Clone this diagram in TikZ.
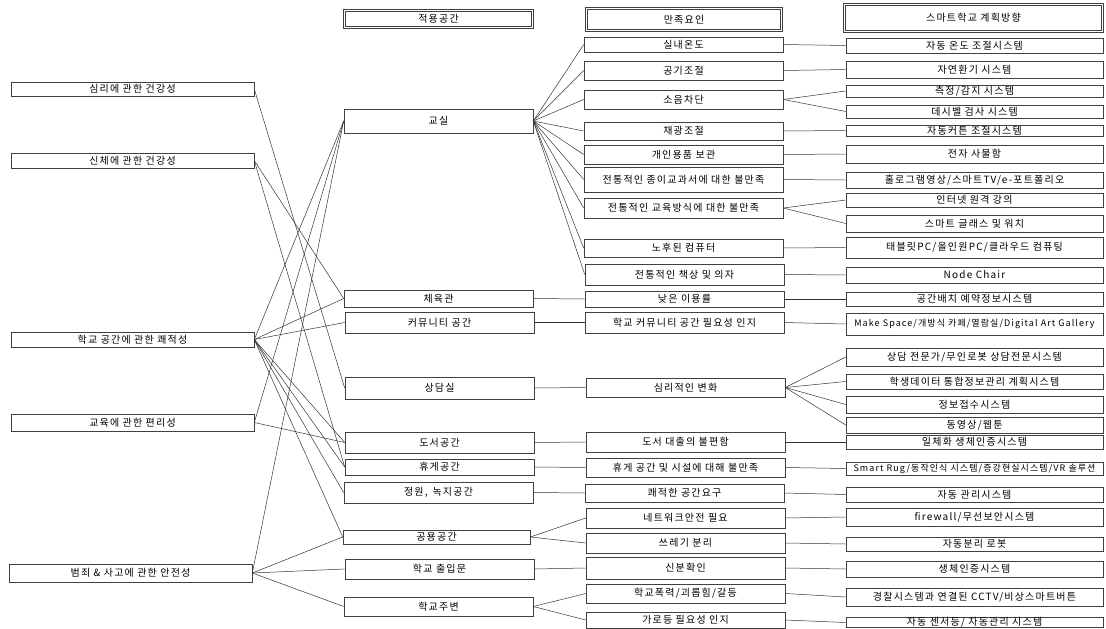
\documentclass[tikz,border=0pt]{standalone}
\usepackage{fontspec}
\setmainfont{Noto Sans CJK KR}[LetterSpace=12]
\tikzset{
  box/.style={draw=black!75, fill=white, line width=0.6pt, inner sep=0pt, font=\fontsize{10}{11}\selectfont},
  leftbox/.style={box, minimum width=243pt},
  spacebox/.style={box, minimum width=189pt},
  factorbox/.style={box, minimum width=199pt},
  planbox/.style={box, minimum width=257pt},
  headbox/.style={box, double, double distance=1.4pt},
  link/.style={black!80, line width=0.5pt}
}
\begin{document}
\begin{tikzpicture}[x=1pt, y=-1pt]
  \useasboundingbox (0,0) rectangle (1106,629);

  \node[headbox, minimum width=188pt, minimum height=17pt] (hs) at (438.5,19) {적용공간};
  \node[headbox, minimum width=195pt, minimum height=22pt] (hf) at (684,19.5) {만족요인};
  \node[headbox, minimum width=258pt, minimum height=27pt] (hp) at (973.5,18) {스마트학교 계획방향};

  \node[leftbox, minimum height=14pt] (l1) at (132.5,89) {심리에 관한 건강성};
  \node[leftbox, minimum height=15pt] (l2) at (132.5,160.5) {신체에 관한 건강성};
  \node[leftbox, minimum height=15pt] (l3) at (132.5,339.5) {학교 공간에 관한 쾌적성};
  \node[leftbox, minimum height=17pt] (l4) at (132.5,422.5) {교육에 관한 편리성};
  \node[leftbox, minimum height=18pt] (l5) at (130.5,573) {범죄 \& 사고에 관한 안전성};

  \node[spacebox, minimum height=24pt] (s1) at (438.5,121) {교실};
  \node[spacebox, minimum height=17pt] (s2) at (438.5,298.5) {체육관};
  \node[spacebox, minimum height=21pt] (s3) at (439.5,322.5) {커뮤니티 공간};
  \node[spacebox, minimum height=22pt] (s4) at (439.5,388) {상담실};
  \node[spacebox, minimum height=21pt] (s5) at (439.5,442.5) {도서공간};
  \node[spacebox, minimum height=16pt] (s6) at (439.5,467) {휴게공간};
  \node[spacebox, minimum height=21pt] (s7) at (438.5,492.5) {정원,\enspace 녹지공간};
  \node[spacebox, minimum width=187pt, minimum height=14pt] (s8) at (436.5,537) {공용공간};
  \node[spacebox, minimum height=20pt] (s9) at (439.5,569) {학교 출입문};
  \node[spacebox, minimum height=19pt] (s10) at (438.5,606.5) {학교주변};

  \node[factorbox, minimum height=15pt] (f1) at (683.5,44.5) {실내온도};
  \node[factorbox, minimum height=19pt] (f2) at (683.5,70.5) {공기조절};
  \node[factorbox, minimum height=19pt] (f3) at (683.5,99.5) {소음차단};
  \node[factorbox, minimum height=18pt] (f4) at (683.5,131) {채광조절};
  \node[factorbox, minimum height=19pt] (f5) at (683.5,154.5) {개인용품 보관};
  \node[factorbox, minimum height=25pt] (f6) at (683.5,179.5) {전통적인 종이교과서에 대한 불만족};
  \node[factorbox, minimum height=20pt] (f7) at (683.5,208) {전통적인 교육방식에 대한 불만족};
  \node[factorbox, minimum height=18pt] (f8) at (683.5,248) {노후된 컴퓨터};
  \node[factorbox, minimum height=21pt] (f9) at (684.5,274.5) {전통적인 책상 및 의자};
  \node[factorbox, minimum height=16pt] (f10) at (684.5,299) {낮은 이용률};
  \node[factorbox, minimum height=21pt] (f11) at (684.5,322.5) {학교 커뮤니티 공간 필요성 인지};
  \node[factorbox, minimum height=19pt] (f12) at (685.5,387.5) {심리적인 변화};
  \node[factorbox, minimum height=20pt] (f13) at (685.5,442) {도서 대출의 불편함};
  \node[factorbox, minimum height=19pt] (f14) at (685.5,467.5) {휴게 공간 및 시설에 대해 불만족};
  \node[factorbox, minimum height=18pt] (f15) at (684.5,493) {쾌적한 공간요구};
  \node[factorbox, minimum height=20pt] (f16) at (685.5,518) {네트워크안전 필요};
  \node[factorbox, minimum height=20pt] (f17) at (685.5,543) {쓰레기 분리};
  \node[factorbox, minimum height=22pt] (f18) at (685.5,568) {신분확인};
  \node[factorbox, minimum height=19pt] (f19) at (685.5,593.5) {학교폭력/괴롭힘/갈등};
  \node[factorbox, minimum height=16pt] (f20) at (685.5,620) {가로등 필요성 인지};

  \node[planbox, minimum height=15pt] (p1) at (974.5,45.5) {자동 온도 조절시스템};
  \node[planbox, minimum height=17pt] (p2) at (974.5,69.5) {자연환기 시스템};
  \node[planbox, minimum height=12pt] (p3) at (974.5,91) {측정/감지 시스템};
  \node[planbox, minimum height=13pt] (p4) at (974.5,111.5) {데시벨 검사 시스템};
  \node[planbox, minimum height=11pt] (p5) at (974.5,130.5) {자동커튼 조절시스템};
  \node[planbox, minimum height=18pt] (p6) at (974.5,154) {전자 사물함};
  \node[planbox, minimum height=16pt] (p7) at (974.5,180) {홀로그램영상/스마트TV/e-포트폴리오};
  \node[planbox, minimum height=14pt] (p8) at (974.5,200) {인터넷 원격 강의};
  \node[planbox, minimum height=17pt] (p9) at (974.5,223.5) {스마트 글래스 및 워치};
  \node[planbox, minimum height=21pt] (p10) at (974.5,247.5) {태블릿PC/올인원PC/클라우드 컴퓨팅};
  \node[planbox, minimum height=16pt] (p11) at (974.5,275) {Node Chair};
  \node[planbox, minimum height=14pt] (p12) at (974.5,299) {공간배치 예약정보시스템};
  \node[planbox, minimum height=22pt, font=\fontsize{9}{10}\selectfont] (p13) at (974.5,324) {Make Space/개방식 카페/열람실/Digital Art Gallery};
  \node[planbox, minimum height=18pt] (p14) at (974.5,357) {상담 전문가/무인로봇 상담전문시스템};
  \node[planbox, minimum height=15pt] (p15) at (974.5,381.5) {학생데이터 통합정보관리 계획시스템};
  \node[planbox, minimum height=17pt] (p16) at (974.5,404.5) {정보접수시스템};
  \node[planbox, minimum height=16pt] (p17) at (974.5,425) {동영상/웹툰};
  \node[planbox, minimum height=14pt] (p18) at (974.5,442) {일체화 생체인증시스템};
  \node[planbox, minimum height=13pt, font=\fontsize{9}{10}\selectfont] (p19) at (974.5,468.5) {Smart Rug/동작인식 시스템/증강현실시스템/VR 솔루션};
  \node[planbox, minimum height=15pt] (p20) at (974.5,494.5) {자동 관리시스템};
  \node[planbox, minimum height=18pt] (p21) at (974.5,517) {firewall/무선보안시스템};
  \node[planbox, minimum height=14pt] (p22) at (974.5,544) {자동분리 로봇};
  \node[planbox, minimum height=16pt] (p23) at (974.5,569) {생체인증시스템};
  \node[planbox, minimum height=18pt] (p24) at (974.5,597) {경찰시스템과 연결된 CCTV/비상스마트버튼};
  \node[planbox, minimum height=10pt] (p25) at (974.5,622.5) {자동 센서등/ 자동관리 시스템};

  \draw[link] (l1.east) -- (s4.west);
  \draw[link] (l2.east) -- (s2.west);
  \draw[link] (l2.east) -- (s6.west);
  \draw[link] (l3.east) -- (s1.west);
  \draw[link] (l3.east) -- (s2.west);
  \draw[link] (l3.east) -- (s3.west);
  \draw[link] (l3.east) -- (s5.west);
  \draw[link] (l3.east) -- (s6.west);
  \draw[link] (l3.east) -- (s7.west);
  \draw[link] (l3.east) -- (s8.west);
  \draw[link] (l4.east) -- (s1.west);
  \draw[link] (l4.east) -- (s5.west);
  \draw[link] (l5.east) -- (s1.west);
  \draw[link] (l5.east) -- (s8.west);
  \draw[link] (l5.east) -- (s9.west);
  \draw[link] (l5.east) -- (s10.west);

  \draw[link] (s1.east) -- (f1.west);
  \draw[link] (s1.east) -- (f2.west);
  \draw[link] (s1.east) -- (f3.west);
  \draw[link] (s1.east) -- (f4.west);
  \draw[link] (s1.east) -- (f5.west);
  \draw[link] (s1.east) -- (f6.west);
  \draw[link] (s1.east) -- (f7.west);
  \draw[link] (s1.east) -- (f8.west);
  \draw[link] (s1.east) -- (f9.west);
  \draw[link] (s2.east) -- (f10.west);
  \draw[link] (s3.east) -- (f11.west);
  \draw[link] (s4.east) -- (f12.west);
  \draw[link] (s5.east) -- (f13.west);
  \draw[link] (s6.east) -- (f14.west);
  \draw[link] (s7.east) -- (f15.west);
  \draw[link] (s8.east) -- (f16.west);
  \draw[link] (s8.east) -- (f17.west);
  \draw[link] (s9.east) -- (f18.west);
  \draw[link] (s10.east) -- (f19.west);
  \draw[link] (s10.east) -- (f20.west);

  \draw[link] (f1.east) -- (p1.west);
  \draw[link] (f2.east) -- (p2.west);
  \draw[link] (f3.east) -- (p3.west);
  \draw[link] (f3.east) -- (p4.west);
  \draw[link] (f4.east) -- (p5.west);
  \draw[link] (f5.east) -- (p6.west);
  \draw[link] (f6.east) -- (p7.west);
  \draw[link] (f7.east) -- (p8.west);
  \draw[link] (f7.east) -- (p9.west);
  \draw[link] (f8.east) -- (p10.west);
  \draw[link] (f9.east) -- (p11.west);
  \draw[link] (f10.east) -- (p12.west);
  \draw[link] (f11.east) -- (p13.west);
  \draw[link] (f12.east) -- (p14.west);
  \draw[link] (f12.east) -- (p15.west);
  \draw[link] (f12.east) -- (p16.west);
  \draw[link] (f12.east) -- (p17.west);
  \draw[link] (f13.east) -- (p18.west);
  \draw[link] (f14.east) -- (p19.west);
  \draw[link] (f15.east) -- (p20.west);
  \draw[link] (f16.east) -- (p21.west);
  \draw[link] (f17.east) -- (p22.west);
  \draw[link] (f18.east) -- (p23.west);
  \draw[link] (f19.east) -- (p24.west);
  \draw[link] (f20.east) -- (p25.west);
\end{tikzpicture}
\end{document}
